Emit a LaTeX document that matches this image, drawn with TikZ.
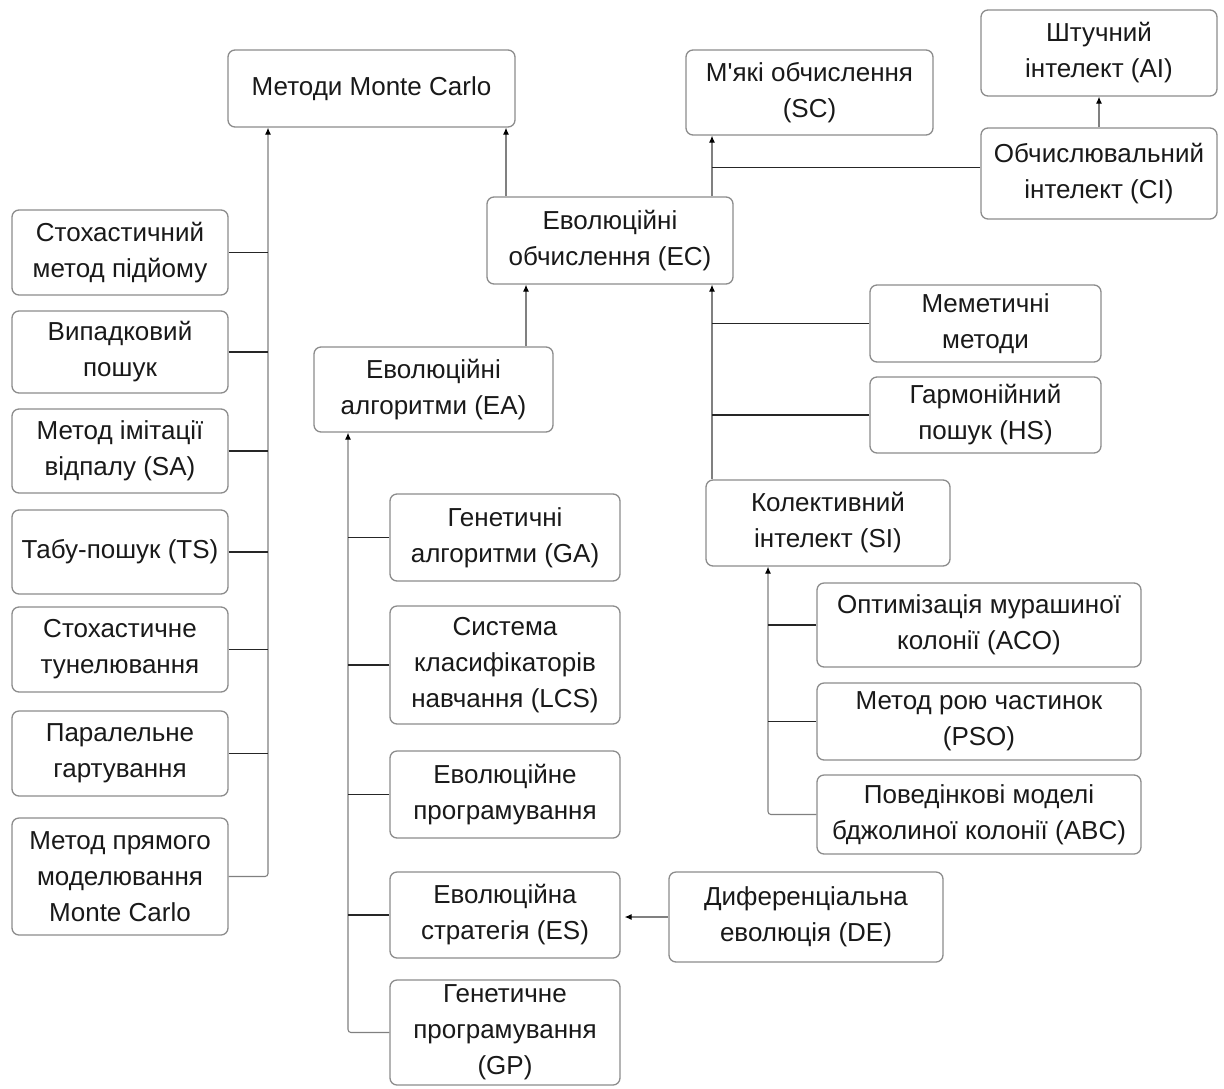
\documentclass[tikz,border=0pt]{standalone}
\usepackage{fontspec}
\setmainfont{Liberation Sans}
\usetikzlibrary{arrows.meta}
\newcommand\straightapos{{\XeTeXglyph\XeTeXcharglyph"27\relax}}
\begin{document}
\begin{tikzpicture}[x=1pt,y=-1pt,
  box/.style={draw=black!45, line width=1.3pt, rounded corners=7pt, align=center, inner sep=0pt,
    font=\fontsize{26}{36}\selectfont, text=black!90},
  vline/.style={draw=black!50, line width=1.1pt},
  hline/.style={draw=black!85, line width=1.8pt},
  arr/.style={arrows={-{Latex[length=7pt,width=6pt,color=black]}}}
]
\useasboundingbox (0,0) rectangle (1224,1088);
\newcommand\bx[6]{\node[box, minimum width=#4-#2, minimum height=#5-#3] (#1) at ({(#2+#4)/2},{(#3+#5)/2}) {#6};}
% top
\bx{MC}{228}{50}{515}{127}{Методи Monte Carlo}
\bx{SC}{686}{50}{933}{135}{М\straightapos які обчислення\\(SC)}
\bx{AI}{981}{10}{1217}{96}{Штучний\\інтелект (AI)}
\bx{CI}{981}{128}{1217}{219}{Обчислювальний\\інтелект (CI)}
\bx{EC}{487}{197}{733}{284}{Еволюційні\\обчислення (EC)}
% left column
\bx{L1}{12}{210}{228}{295}{Стохастичний\\метод підйому}
\bx{L2}{12}{311}{228}{393}{Випадковий\\пошук}
\bx{L3}{12}{409}{228}{493}{Метод імітації\\відпалу (SA)}
\bx{L4}{12}{510}{228}{594}{Табу-пошук (TS)}
\bx{L5}{12}{607}{228}{692}{Стохастичне\\тунелювання}
\bx{L6}{12}{711}{228}{796}{Паралельне\\гартування}
\bx{L7}{12}{818}{228}{935}{Метод прямого\\моделювання\\Monte Carlo}
% EA column
\bx{EA}{314}{347}{553}{432}{Еволюційні\\алгоритми (EA)}
\bx{GA}{390}{494}{620}{581}{Генетичні\\алгоритми (GA)}
\bx{LCS}{390}{606}{620}{724}{Система\\класифікаторів\\навчання (LCS)}
\bx{EP}{390}{751}{620}{838}{Еволюційне\\програмування}
\bx{ES}{390}{872}{620}{958}{Еволюційна\\стратегія (ES)}
\bx{GP}{390}{980}{620}{1085}{Генетичне\\програмування\\(GP)}
\bx{DE}{669}{872}{943}{962}{Диференціальна\\еволюція (DE)}
% EC right column
\bx{MM}{870}{285}{1101}{362}{Меметичні\\методи}
\bx{HS}{870}{377}{1101}{453}{Гармонійний\\пошук (HS)}
\bx{SI}{706}{480}{950}{566}{Колективний\\інтелект (SI)}
\bx{ACO}{817}{583}{1141}{667}{Оптимізація мурашиної\\колонії (ACO)}
\bx{PSO}{817}{683}{1141}{760}{Метод рою частинок\\(PSO)}
\bx{ABC}{817}{775}{1141}{854}{Поведінкові моделі\\бджолиної колонії (ABC)}
% trunk x positions
\coordinate (tMC) at (268,0);
\coordinate (tECMC) at (506,0);
\coordinate (tEA) at (526,0);
\coordinate (tSC) at (712,0);
\coordinate (tEAc) at (348,0);
\coordinate (tSI) at (768,0);
% Monte Carlo trunk
\draw[vline,arr,rounded corners=3pt] (L7.east) -- (L7.east -| tMC) -- (MC.south -| tMC);
\foreach \n in {L1,L2,L3,L4,L5,L6} \draw[hline] (\n.east) -- (\n.east -| tMC);
\draw[vline,arr] (EC.north -| tECMC) -- (MC.south -| tECMC);
% EA
\draw[vline,arr] (EA.north -| tEA) -- (EC.south -| tEA);
\draw[vline,arr,rounded corners=3pt] (GP.west) -- (GP.west -| tEAc) -- (EA.south -| tEAc);
\foreach \n in {GA,LCS,EP,ES} \draw[hline] (\n.west) -- (\n.west -| tEAc);
\draw[vline,arr,shorten >=4pt] (DE.west) -- (DE.west -| ES.east);
% EC
\draw[vline,arr] (SI.north -| tSC) -- (EC.south -| tSC);
\foreach \n in {MM,HS} \draw[hline] (\n.west) -- (\n.west -| tSC);
\draw[vline,arr] (EC.north -| tSC) -- (SC.south -| tSC);
\draw[hline] ([yshift=6pt]CI.west) -- ([yshift=6pt]CI.west -| tSC);
\draw[vline,arr] (CI.north) -- (AI.south);
% SI
\draw[vline,arr,rounded corners=3pt] (ABC.west) -- (ABC.west -| tSI) -- (SI.south -| tSI);
\foreach \n in {ACO,PSO} \draw[hline] (\n.west) -- (\n.west -| tSI);
\end{tikzpicture}
\end{document}
